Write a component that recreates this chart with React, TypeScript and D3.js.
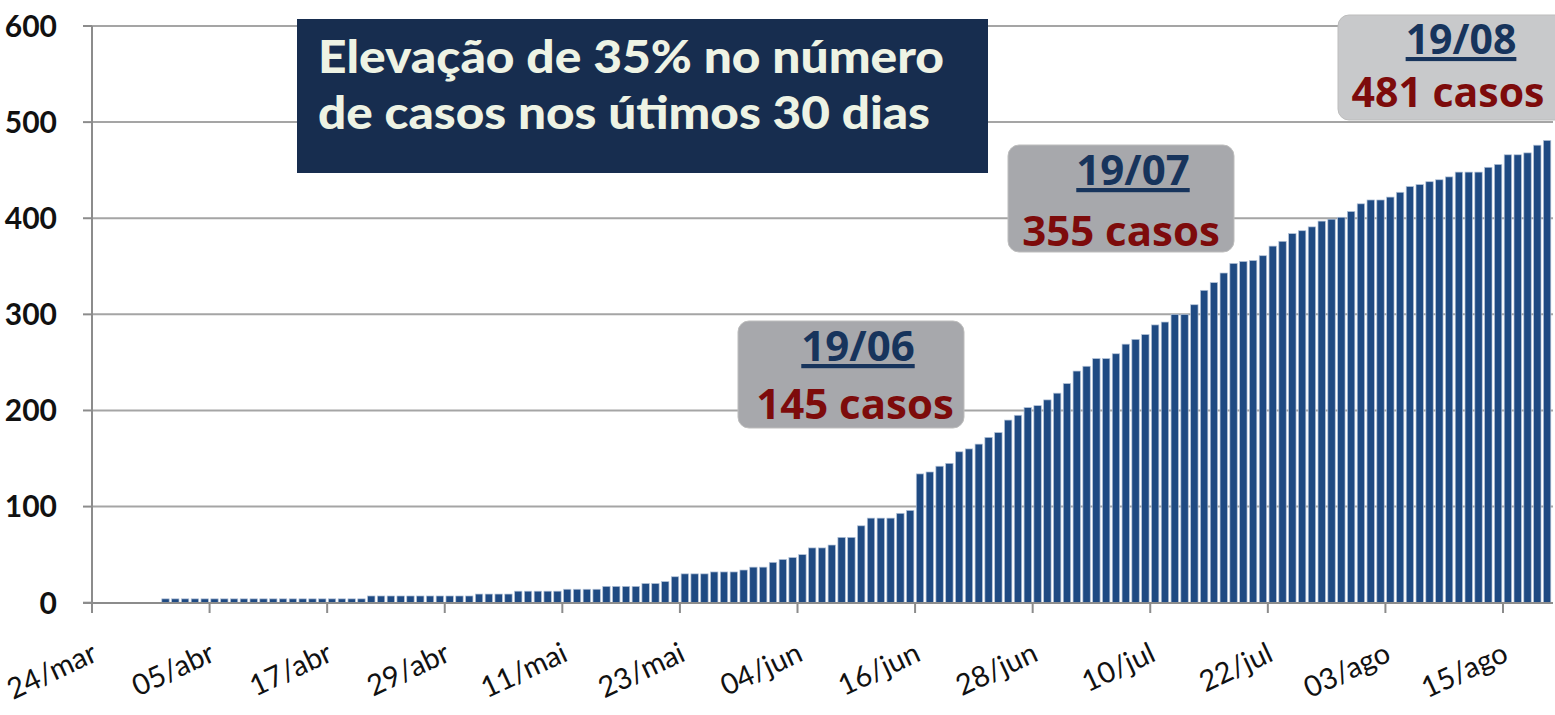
import * as d3 from "d3";

// casos acumulados por dia, a partir de 31/mar
const firstCaseDay = "2020-03-31";
const casos = [
  4, 4, 4, 4, 4, 4, 4, 4, 4, 4, 4, 4, 4, 4, 4, 4, 4, 4, 4, 4, 4,
  7, 7, 7, 7, 7, 7, 7, 7, 7, 7, 7,
  9, 9, 9, 9,
  12, 12, 12, 12, 12,
  14, 14, 14, 14, 17, 17, 17, 17, 20, 20, 22, 27, 30, 30, 30, 32, 32, 32, 34, 37, 37,
  42, 45, 47, 50, 57, 57, 60, 68, 68, 80, 88, 88, 88, 93, 96,
  134, 136, 142, 145, 157, 160, 165, 172, 177, 190, 195, 203, 205, 211, 218, 228,
  241, 246, 254, 254, 259, 269, 274, 279, 289, 292, 300, 300, 310, 325, 333, 343,
  353, 355, 356, 361, 371, 376, 384, 387, 391, 397, 399, 401, 407, 415, 419, 419,
  422, 427, 433, 435, 438, 440, 443, 448, 448, 448, 453, 456, 466, 466, 468, 476, 481,
];

const axisStart = "2020-03-24";
const axisEnd = "2020-08-20";
const tickLabels = [
  "24/mar", "05/abr", "17/abr", "29/abr", "11/mai", "23/mai", "04/jun",
  "16/jun", "28/jun", "10/jul", "22/jul", "03/ago", "15/ago",
];
const tickEveryDays = 12;
const yTicks = [0, 100, 200, 300, 400, 500, 600];

const titleLines = ["Elevação de 35% no número", "de casos nos útimos 30 dias"];
const callouts = [
  { date: "19/06", casos: "145 casos" },
  { date: "19/07", casos: "355 casos" },
  { date: "19/08", casos: "481 casos" },
];

const W = 1555;
const H = 715;
const parse = d3.timeParse("%Y-%m-%d");

export default function App() {
  const x = d3.scaleTime().domain([parse(axisStart)!, parse(axisEnd)!]).range([92, 1552]);
  const y = d3.scaleLinear().domain([0, 600]).range([602.7, 26]);
  const start = parse(firstCaseDay)!;
  const bars = casos.map((v, i) => ({ day: d3.timeDay.offset(start, i), v }));
  const ticks = tickLabels.map((label, k) => ({
    label,
    day: d3.timeDay.offset(parse(axisStart)!, k * tickEveryDays),
  }));

  // caixas de destaque (posição manual, como no slide)
  const boxes = [
    { x: 738, y: 321, w: 226, h: 107, fill: "#a7a8ac", dx: 858, dy: 361, cx: 855, cy: 419, fs: 42 },
    { x: 1008, y: 145, w: 226, h: 107, fill: "#a7a8ac", dx: 1133, dy: 185, cx: 1121, cy: 246, fs: 42 },
    { x: 1338, y: 15, w: 230, h: 105, fill: "#c8c9cb", dx: 1461, dy: 54, cx: 1448, cy: 107, fs: 41 },
  ];
  const titleWidths = [626, 612];

  return (
    <svg width={W} height={H} style={{ position: "absolute", left: 0, top: 0, background: "#fff" }}>
      {yTicks.slice(1).map((t) => (
        <line key={t} x1={92} x2={1553} y1={y(t)} y2={y(t)} stroke="#a5a5a5" strokeWidth={2} />
      ))}
      {yTicks.map((t) => (
        <g key={"yt" + t}>
          <line x1={83} x2={92} y1={y(t)} y2={y(t)} stroke="#8c8c8c" strokeWidth={2} />
          <text
            x={57}
            y={y(t)}
            dy="0.36em"
            textAnchor="end"
            fontFamily="Lato, 'DejaVu Sans', sans-serif"
            fontWeight={700}
            fontSize={30}
            fill="#111"
          >
            {t}
          </text>
        </g>
      ))}

      {bars.map((b) => {
        const x0 = x(b.day);
        const x1 = x(d3.timeDay.offset(b.day, 1));
        return (
          <rect
            key={+b.day}
            x={x0 + 1.2}
            y={y(b.v)}
            width={x1 - x0 - 2.4}
            height={y(0) - y(b.v)}
            fill="#1f4a82"
            stroke="#b4c3d8"
            strokeWidth={0.7}
          />
        );
      })}

      <line x1={92} x2={92} y1={26} y2={603} stroke="#8c8c8c" strokeWidth={2} />
      <line x1={83} x2={1553} y1={603} y2={603} stroke="#8c8c8c" strokeWidth={2} />
      {ticks.map((t) => (
        <g key={t.label}>
          <line x1={x(t.day)} x2={x(t.day)} y1={603} y2={613} stroke="#8c8c8c" strokeWidth={2} />
          <text
            transform={`translate(${x(t.day) + 7},660) rotate(-25)`}
            textAnchor="end"
            fontFamily="Lato, 'DejaVu Sans', sans-serif"
            fontSize={29}
            fill="#111"
          >
            {t.label}
          </text>
        </g>
      ))}

      <rect x={297} y={19} width={691} height={154} fill="#172d4f" />
      {titleLines.map((line, i) => (
        <text
          key={line}
          x={318}
          y={73 + i * 56}
          textLength={titleWidths[i]}
          lengthAdjust="spacingAndGlyphs"
          fontFamily="Lato, 'Open Sans', sans-serif"
          fontWeight={900}
          fontSize={45}
          fill="#eef3e4"
        >
          {line}
        </text>
      ))}

      {callouts.map((c, i) => {
        const b = boxes[i];
        return (
          <g key={c.date}>
            <rect x={b.x} y={b.y} width={b.w} height={b.h} rx={11} fill={b.fill} stroke="#bdbdbd" strokeWidth={1} />
            <text
              x={b.dx}
              y={b.dy}
              textAnchor="middle"
              fontFamily="'Open Sans', 'Noto Sans', sans-serif"
              fontWeight={700}
              fontSize={b.fs}
              fill="#17345c"
              style={{ textDecoration: "underline", textDecorationThickness: "4px" } as any}
            >
              {c.date}
            </text>
            <text
              x={b.cx}
              y={b.cy}
              textAnchor="middle"
              fontFamily="'Open Sans', 'Noto Sans', sans-serif"
              fontWeight={700}
              fontSize={b.fs}
              fill="#7d0b0b"
            >
              {c.casos}
            </text>
          </g>
        );
      })}
    </svg>
  );
}
